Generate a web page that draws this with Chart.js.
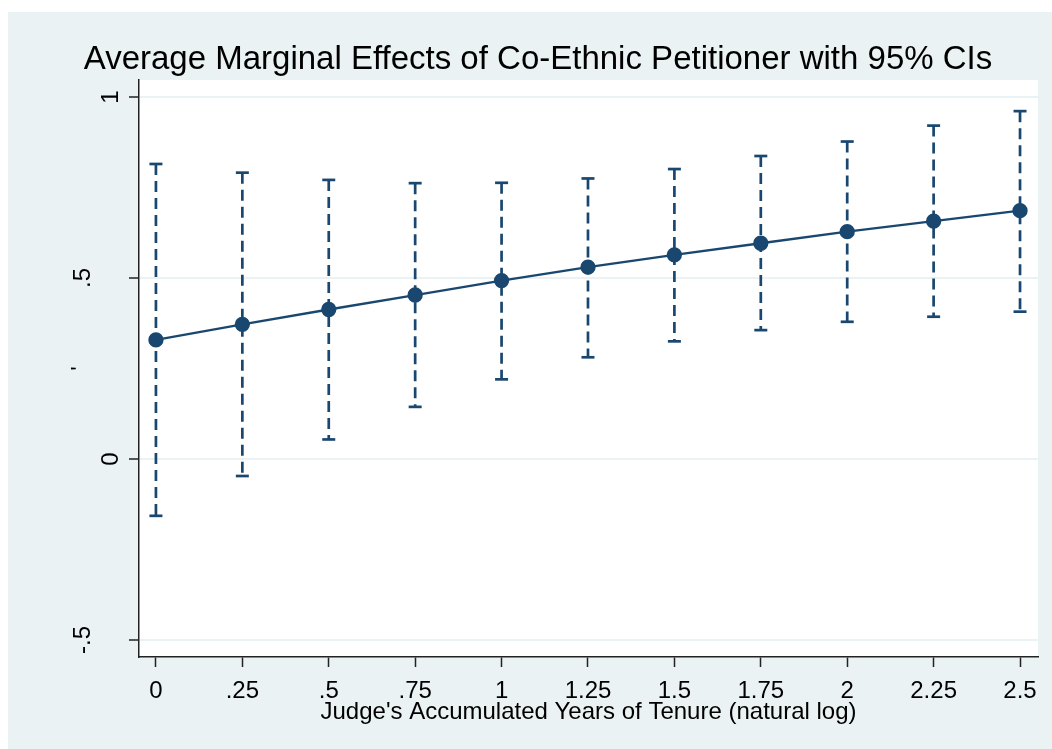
<!DOCTYPE html>
<html>
<head>
<meta charset="utf-8">
<script src="https://cdn.jsdelivr.net/npm/chart.js@4.4.0/dist/chart.umd.min.js"></script>
<style>
  body { margin: 0; background: #fff; }
  #wrap { position: absolute; left: 8px; top: 12px; width: 1044px; height: 737px; background: #eaf2f3; }
</style>
</head>
<body>
<div id="wrap"><canvas id="myChart" width="1044" height="737"></canvas></div>
<script>
// values
const tenure = [0, 0.25, 0.5, 0.75, 1, 1.25, 1.5, 1.75, 2, 2.25, 2.5]
const effect = [0.329, 0.372, 0.413, 0.453, 0.493, 0.530, 0.564, 0.596, 0.628, 0.657, 0.686]
const ciLow = [-0.157, -0.047, 0.054, 0.144, 0.220, 0.281, 0.325, 0.356, 0.379, 0.393, 0.407]
const ciHigh = [0.815, 0.791, 0.771, 0.762, 0.763, 0.775, 0.801, 0.837, 0.877, 0.921, 0.961]

const xTickValues = [0, 0.25, 0.5, 0.75, 1, 1.25, 1.5, 1.75, 2, 2.25, 2.5]
const xTickLabels = ['0', '.25', '.5', '.75', '1', '1.25', '1.5', '1.75', '2', '2.25', '2.5']
const yTickValues = [-0.5, 0, 0.5, 1]
const yTickLabels = ['-.5', '0', '.5', '1']

const navy = '#1a476f'
const bg = '#eaf2f3'
const axisColor = '#222'

Chart.defaults.font.family = "'Liberation Sans', Arial, sans-serif"
Chart.defaults.color = '#000'

// white plot region like stata
const plotBg = {
    id: 'plotBg',
    beforeDraw(chart) {
        const {ctx, chartArea: a} = chart
        ctx.save()
        ctx.fillStyle = '#fff'
        ctx.fillRect(a.left, a.top, a.right - a.left, a.bottom - a.top)
        ctx.restore()
    }
}

const ciSets = tenure.map((x, i) => ({
    data: [{x: x, y: ciHigh[i]}, {x: x, y: ciLow[i]}],
    showLine: true,
    borderColor: navy,
    borderWidth: 2.7,
    borderDash: [11, 6],
    pointStyle: 'line',
    pointRadius: 6.5,
    pointBorderWidth: 2.7,
    pointBorderColor: navy
}))

const info = {
    datasets: [{
        data: tenure.map((x, i) => ({x: x, y: effect[i]})),
        showLine: true,
        borderColor: navy,
        borderWidth: 2.3,
        pointRadius: 6.5,
        pointBackgroundColor: navy,
        pointBorderColor: navy
    }, ...ciSets]
}

const options = {
    responsive: false,
    devicePixelRatio: 1,
    animation: false,
    events: [],
    layout: { padding: {left: 30, right: 14, top: 0, bottom: 25} },
    scales: {
        x: {
            type: 'linear',
            min: -0.049,
            max: 2.552,
            afterBuildTicks: s => { s.ticks = xTickValues.map(v => ({value: v})) },
            afterFit: s => { s.height = 67 },
            ticks: {
                padding: 12,
                font: {size: 24, lineHeight: 1},
                callback: (v, i) => xTickLabels[i]
            },
            grid: {
                drawOnChartArea: false,
                tickLength: 10,
                tickColor: axisColor,
                tickWidth: 1.5
            },
            border: {color: axisColor, width: 1.5},
            title: {
                display: true,
                text: "Judge's Accumulated Years of Tenure (natural log)",
                font: {size: 24, lineHeight: 1},
                padding: {top: 0, bottom: 0}
            }
        },
        y: {
            min: -0.547,
            max: 1.047,
            afterBuildTicks: s => { s.ticks = yTickValues.map(v => ({value: v})) },
            afterFit: s => { s.width = 101 },
            ticks: {
                padding: 4,
                minRotation: 90,
                maxRotation: 90,
                crossAlign: 'center',
                font: {size: 24, lineHeight: '56px'},
                // stata sets the longer rotated labels further left, an empty 2nd line nudges them
                callback: (v, i) => yTickLabels[i].length > 1 ? [yTickLabels[i], ''] : yTickLabels[i]
            },
            grid: {
                color: bg,
                lineWidth: 2,
                tickLength: 10,
                tickColor: axisColor,
                tickWidth: 1.5
            },
            border: {color: axisColor, width: 1.5},
            title: {
                display: true,
                text: "'",
                font: {size: 22, lineHeight: 1},
                padding: {top: 31, bottom: 0}
            }
        }
    },
    plugins: {
        legend: {display: false},
        tooltip: {enabled: false},
        title: {
            display: true,
            text: 'Average Marginal Effects of Co-Ethnic Petitioner with 95% CIs',
            color: '#000',
            font: {size: 33, weight: 'normal', lineHeight: 1},
            padding: {top: 31.5, bottom: 3.5}
        }
    }
}

const myChart = new Chart(document.getElementById('myChart'), {
    type: 'scatter',
    data: info,
    options,
    plugins: [plotBg]
})
</script>
</body>
</html>
